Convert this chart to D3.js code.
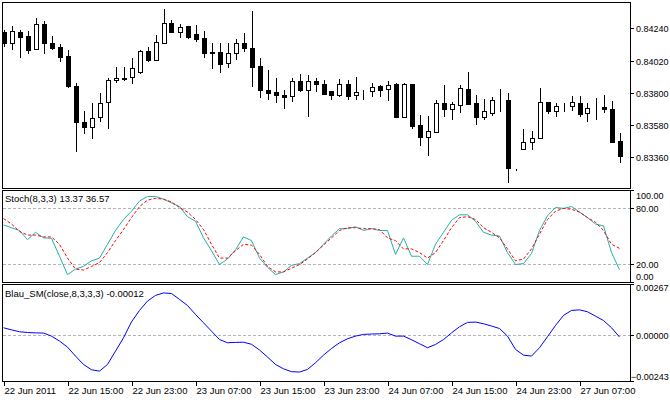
<!DOCTYPE html>
<html>
<head>
<meta charset="utf-8">
<script src="https://cdn.jsdelivr.net/npm/d3@7"></script>
<style>
  body { margin: 0; background: #fff; }
  svg text { font-family: "Liberation Sans", Arial, sans-serif; font-size: 9.5px; fill: #000; }
  svg text.axis { font-size: 9px; }
</style>
</head>
<body>
<div id="vis"></div>
<script>
// hourly bars, 22 Jun 07:00 .. 27 Jun 07:00
const opens  = [0.84213,0.84138,0.84215,0.84188,0.84102,0.84267,0.84138,0.84111,0.84049,0.83845,
                0.83600,0.83566,0.83634,0.83736,0.83886,0.83897,0.83906,0.83945,0.84086,0.84027,
                0.84142,0.84274,0.84217,0.84256,0.84201,0.84172,0.84076,0.84076,0.84002,0.84070,
                0.84138,0.84104,0.83981,0.83820,0.83806,0.83784,0.83775,0.83881,0.83822,0.83881,
                0.83859,0.83813,0.83788,0.83859,0.83784,0.83811,0.83811,0.83843,0.83825,0.83861,
                0.83634,0.83861,0.83582,0.83502,0.83536,0.83729,0.83688,0.83716,0.83825,0.83729,
                0.83634,0.83661,0.83750,0.83752,0.83280,0.83416,0.83468,0.83491,0.83736,0.83677,
                0.83709,0.83707,0.83729,0.83661,0.83702,0.83702,0.83691,0.83473];
const highs  = [0.84225,0.84256,0.84229,0.84222,0.84308,0.84290,0.84188,0.84133,0.84092,0.83868,
                0.83677,0.83729,0.83797,0.83900,0.83974,0.83974,0.84036,0.84092,0.84115,0.84195,
                0.84372,0.84297,0.84270,0.84256,0.84263,0.84222,0.84138,0.84138,0.84138,0.84165,
                0.84208,0.84358,0.84036,0.83956,0.83902,0.83820,0.83900,0.83929,0.83922,0.83900,
                0.83888,0.83813,0.83893,0.83888,0.83906,0.83820,0.83865,0.83854,0.83881,0.83865,
                0.83865,0.83861,0.83650,0.83645,0.83752,0.83854,0.83738,0.83854,0.83945,0.83786,
                0.83756,0.83768,0.83827,0.83797,0.83283,0.83554,0.83541,0.83831,0.83736,0.83729,
                0.83729,0.83775,0.83781,0.83729,0.83763,0.83786,0.83745,0.83529];
const lows   = [0.84120,0.84102,0.84047,0.84074,0.84097,0.84074,0.84102,0.84020,0.83838,0.83400,
                0.83529,0.83491,0.83611,0.83559,0.83877,0.83884,0.83870,0.83934,0.84020,0.84027,
                0.84142,0.84217,0.84179,0.84172,0.84156,0.84047,0.83972,0.83945,0.83979,0.84033,
                0.84088,0.83843,0.83768,0.83761,0.83734,0.83693,0.83741,0.83809,0.83645,0.83809,
                0.83795,0.83756,0.83779,0.83756,0.83756,0.83756,0.83781,0.83781,0.83752,0.83634,
                0.83634,0.83559,0.83441,0.83373,0.83536,0.83645,0.83620,0.83666,0.83727,0.83586,
                0.83620,0.83650,0.83677,0.83189,0.83277,0.83416,0.83416,0.83491,0.83661,0.83639,
                0.83677,0.83684,0.83645,0.83611,0.83623,0.83666,0.83464,0.83325];
const closes = [0.84138,0.84220,0.84183,0.84092,0.84267,0.84138,0.84108,0.84043,0.83843,0.83598,
                0.83564,0.83627,0.83729,0.83888,0.83899,0.83899,0.83968,0.84086,0.84027,0.84145,
                0.84274,0.84217,0.84247,0.84183,0.84170,0.84074,0.84074,0.83999,0.84070,0.84138,
                0.84108,0.83979,0.83822,0.83802,0.83788,0.83768,0.83881,0.83818,0.83881,0.83859,
                0.83795,0.83788,0.83859,0.83779,0.83804,0.83813,0.83838,0.83816,0.83852,0.83634,
                0.83861,0.83577,0.83498,0.83541,0.83729,0.83688,0.83722,0.83831,0.83727,0.83634,
                0.83677,0.83752,0.83752,0.83287,0.83280,0.83468,0.83491,0.83736,0.83673,0.83711,
                0.83707,0.83736,0.83657,0.83693,0.83700,0.83688,0.83464,0.83366];

const stochMain = [62,59,56,46,54,48,47.5,28,8,14,17,23,26,41,56,68,77,88,93,93,
                   90,86,82,71,66,48,34,19,25,35,49,45,26,16,8,11,18,20,26,32,
                   41,50,58,58,60,56,58,56,56,30,48,28,28,19,41,54,67,73,73,66,
                   54,51,50,32,19,20,31,56,72,81,80,82,76,70,63,61,32,13.37];
const stochSignal = [69,63,55,51,51,49,49,41,26,14,13,17,21,32,45,57,70,82,89,91,
                     90,87,81,76,68,57,41,26,26,34,41,40,30,17,11,11,15,19,25,32,
                     40,48,56,59,59,58,58,57,48,45,36,36,32,26,32,45,59,70,71,68,
                     59,54,48,36,23,25,36,52,68,77,80,79,76,70,65,56,41,36.57];
const blauSM = [0.00037,0.00026,0.00016,0.00012,0.00010,0.00009,-0.00007,-0.00033,-0.00065,-0.00112,
                -0.00156,-0.00184,-0.00191,-0.00156,-0.00086,-0.00016,0.00068,0.00128,0.00177,0.00207,
                0.00220,0.00217,0.00186,0.00154,0.00107,0.00063,0.00019,-0.00025,-0.00042,-0.00040,
                -0.00039,-0.00050,-0.00080,-0.00117,-0.00156,-0.00179,-0.00194,-0.00196,-0.00182,-0.00147,
                -0.00107,-0.00072,-0.00042,-0.00021,-0.00007,0.00002,0.00004,0.00005,0.00009,-0.00007,
                -0.00007,-0.00026,-0.00047,-0.00068,-0.00051,-0.00025,0.00010,0.00042,0.00065,0.00067,
                0.00058,0.00046,0.00033,-0.00007,-0.00077,-0.00107,-0.00112,-0.00068,-0.00010,0.00049,
                0.00102,0.00128,0.00131,0.00121,0.00098,0.00075,0.00037,-0.00012];

const timeLabels = ["22 Jun 2011","22 Jun 15:00","22 Jun 23:00","23 Jun 07:00","23 Jun 15:00",
                    "23 Jun 23:00","24 Jun 07:00","24 Jun 15:00","24 Jun 23:00","27 Jun 07:00"];
const timeLabelBars = [0,8,16,24,32,40,48,56,64,72];
const priceTicks = [0.84240,0.84020,0.83800,0.83580,0.83360];
const stochTicks = [100,80,20,0];
const stochLevels = [20,80];
const blauTicks = [0.00267,0,-0.00243];

const W = 670, H = 400;
const plotL = 2, plotR = 630;
const panels = {
  main:  { top: 2,   bottom: 188 },
  stoch: { top: 190, bottom: 282 },
  blau:  { top: 284, bottom: 381 }
};

const svg = d3.select("#vis").append("svg")
    .attr("width", W)
    .attr("height", H);

const x = d3.scaleLinear()
    .domain([0, opens.length - 1])
    .range([3.5, 619.5]);

const yPrice = d3.scaleLinear().domain([0.83151, 0.84419]).range([panels.main.bottom, panels.main.top]);
const yStoch = d3.scaleLinear().domain([0, 100]).range([panels.stoch.bottom, panels.stoch.top]);
const yBlau = d3.scaleLinear().domain([-0.00243, 0.00267]).range([panels.blau.bottom, panels.blau.top]);

// frames
Object.values(panels).forEach(p => {
  svg.append("rect")
      .attr("x", plotL + 0.5).attr("y", p.top + 0.5)
      .attr("width", plotR - plotL).attr("height", p.bottom - p.top)
      .attr("fill", "none").attr("stroke", "#000");
});

// dashed levels
svg.selectAll(".slevel").data(stochLevels).enter().append("line")
    .attr("x1", plotL + 1).attr("x2", plotR)
    .attr("y1", d => Math.round(yStoch(d)) + 0.5).attr("y2", d => Math.round(yStoch(d)) + 0.5)
    .attr("stroke", "#b4b4b4").attr("stroke-dasharray", "3,2");
svg.append("line")
    .attr("x1", plotL + 1).attr("x2", plotR)
    .attr("y1", Math.round(yBlau(0)) + 0.5).attr("y2", Math.round(yBlau(0)) + 0.5)
    .attr("stroke", "#b4b4b4").attr("stroke-dasharray", "3,2");

// candles
const bars = d3.range(opens.length).map(i => ({ i, o: opens[i], h: highs[i], l: lows[i], c: closes[i] }));
const g = svg.append("g").attr("shape-rendering", "crispEdges");
g.selectAll(".wick").data(bars).enter().append("line")
    .attr("x1", d => Math.round(x(d.i)) + 0.5).attr("x2", d => Math.round(x(d.i)) + 0.5)
    .attr("y1", d => Math.round(yPrice(d.h))).attr("y2", d => Math.round(yPrice(d.l)) + 1)
    .attr("stroke", "#000");
g.selectAll(".body").data(bars).enter().append("rect")
    .attr("x", d => Math.round(x(d.i)) - 1.5)
    .attr("y", d => Math.round(yPrice(Math.max(d.o, d.c))) + 0.5)
    .attr("width", 4)
    .attr("height", d => Math.max(0, Math.round(yPrice(Math.min(d.o, d.c))) - Math.round(yPrice(Math.max(d.o, d.c)))))
    .attr("fill", d => d.c >= d.o ? "#fff" : "#000")
    .attr("stroke", "#000");

// stochastic
const sLine = d3.line().x((d, i) => x(i)).y(d => yStoch(d));
svg.append("path").datum(stochMain).attr("d", sLine)
    .attr("fill", "none").attr("stroke", "#20b2aa").attr("stroke-width", 1);
svg.append("path").datum(stochSignal).attr("d", sLine)
    .attr("fill", "none").attr("stroke", "#ff0000").attr("stroke-width", 1).attr("stroke-dasharray", "3,2");

// Blau_SM
const bLine = d3.line().x((d, i) => x(i)).y(d => yBlau(d));
svg.append("path").datum(blauSM).attr("d", bLine)
    .attr("fill", "none").attr("stroke", "#0000ff").attr("stroke-width", 1);

// panel titles
svg.append("text").attr("x", 5).attr("y", panels.stoch.top + 12)
    .text(`Stoch(8,3,3) ${stochMain[stochMain.length - 1].toFixed(2)} ${stochSignal[stochSignal.length - 1].toFixed(2)}`);
svg.append("text").attr("x", 5).attr("y", panels.blau.top + 13)
    .text(`Blau_SM(close,8,3,3,3) ${blauSM[blauSM.length - 1].toFixed(5)}`);

// right axes
function rightAxis(ticks, scale, fmt, offsets) {
  ticks.forEach((t, k) => {
    const y = Math.round(scale(t)) + 0.5;
    svg.append("line").attr("x1", plotR + 1).attr("x2", plotR + 4)
        .attr("y1", y).attr("y2", y).attr("stroke", "#000");
    svg.append("text").attr("class", "axis").attr("x", plotR + (t < 0 ? 1 : 6))
        .attr("y", y + (offsets ? offsets[k] : 0)).attr("dy", "0.35em").text(fmt(t));
  });
}
rightAxis(priceTicks, yPrice, d3.format(".5f"));
rightAxis(stochTicks, yStoch, d3.format(".2f"), [5, 0, 0, -6]);
rightAxis(blauTicks, yBlau, d3.format(".5f"), [3, 0, -5]);

// time axis
timeLabelBars.forEach((b, k) => {
  const xx = Math.round(x(b)) + 0.5;
  svg.append("line").attr("x1", xx).attr("x2", xx)
      .attr("y1", panels.blau.bottom + 1).attr("y2", panels.blau.bottom + 5).attr("stroke", "#000");
  svg.append("text").attr("x", xx).attr("y", panels.blau.bottom + 13).text(timeLabels[k]);
});
</script>
</body>
</html>
